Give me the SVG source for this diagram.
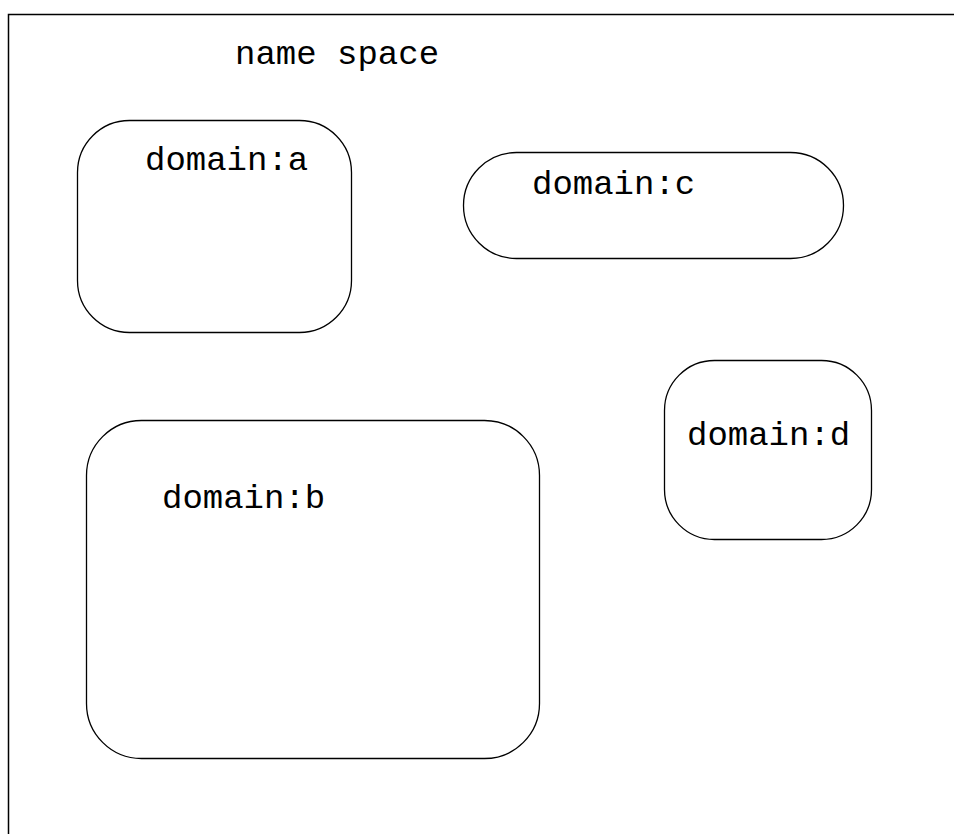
<svg xmlns="http://www.w3.org/2000/svg" width="954" height="834" viewBox="0 0 954 834">
<style>
.frame{fill:none;stroke:#000;stroke-width:1.5}
.dom{fill:#fff;stroke:#000;stroke-width:1.3}
.lbl{font-family:"Liberation Mono","Courier New",monospace;font-size:34px;fill:#000}
</style>
<rect width="954" height="834" fill="#fff"/>
<g id="namespace">
<path class="frame" d="M8.5,834 V14.5 H954"/>
<text class="lbl" x="235" y="64">name space</text>
</g>
<g id="domain-a">
<rect class="dom" x="77.5" y="120.5" width="274" height="212" rx="52" ry="52"/>
<text class="lbl" x="145" y="170">domain:a</text>
</g>
<g id="domain-c">
<rect class="dom" x="463.5" y="152.5" width="380" height="106" rx="53" ry="53"/>
<text class="lbl" x="532" y="194">domain:c</text>
</g>
<g id="domain-d">
<rect class="dom" x="664.5" y="360.5" width="207" height="179" rx="50" ry="50"/>
<text class="lbl" x="687" y="445">domain:d</text>
</g>
<g id="domain-b">
<rect class="dom" x="86.5" y="420.5" width="453" height="338" rx="55" ry="55"/>
<text class="lbl" x="162" y="508">domain:b</text>
</g>
<g id="connectors"/>
</svg>
